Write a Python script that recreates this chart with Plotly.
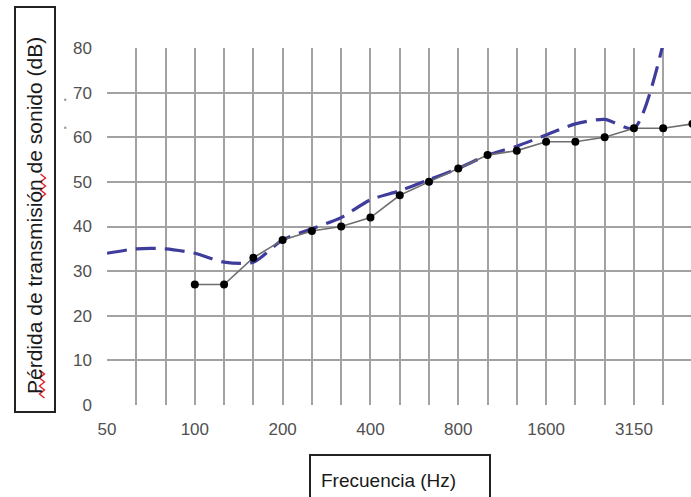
import plotly.graph_objects as go

# Third-octave band centre frequencies (Hz)
frecuencias = ["50", "63", "80", "100", "125", "160", "200", "250", "315", "400",
               "500", "630", "800", "1000", "1250", "1600", "2000", "2500",
               "3150", "4000", "5000"]
etiquetas_x = {"50", "100", "200", "400", "800", "1600", "3150"}

# Measured transmission loss (dB), from 100 Hz upwards
frec_medida = ["100", "125", "160", "200", "250", "315", "400", "500", "630",
               "800", "1000", "1250", "1600", "2000", "2500", "3150", "4000", "5000"]
tl_medida = [27, 27, 33, 37, 39, 40, 42, 47, 50, 53, 56, 57, 59, 59, 60, 62, 62, 63]

# Reference curve (dB), 50 Hz to 4000 Hz
frec_ref = frecuencias[:20]
tl_ref = [34, 35, 35, 34, 32, 32, 37, 39.5, 42, 46, 48, 50.5, 53, 56, 58, 60.5, 63, 64, 62, 81]

y_ticks = [0, 10, 20, 30, 40, 50, 60, 70, 80]

W, H = 691, 497
L, T, R, B = 107, 48, 0, 92
PW, PH = W - L - R, H - T - B


def px(x):
    return (x - L) / PW


def py(y):
    return (H - B - y) / PH


fig = go.Figure()

fig.add_trace(go.Scatter(
    x=frec_ref, y=tl_ref, mode="lines",
    line=dict(color="#3f3d9c", width=3.2, dash="20px,9px", shape="spline", smoothing=0.7),
    hoverinfo="skip", showlegend=False,
))

fig.add_trace(go.Scatter(
    x=frec_medida, y=tl_medida, mode="lines+markers",
    line=dict(color="#6e6e6e", width=1.6),
    marker=dict(color="#000000", size=8),
    showlegend=False,
))

tick_font = dict(family="Liberation Sans, Arial, sans-serif", size=17, color="#505050")
grid_col = "#a2a2a2"

fig.update_xaxes(
    type="category", categoryorder="array", categoryarray=frecuencias,
    range=[0, 19.95],
    tickmode="array", tickvals=frecuencias,
    ticktext=[f if f in etiquetas_x else "" for f in frecuencias],
    showgrid=True, gridcolor=grid_col, gridwidth=2,
    showline=False, zeroline=False, ticks="",
    tickfont=tick_font, ticklabelstandoff=12,
)
fig.update_yaxes(
    range=[0, 80], tickvals=y_ticks,
    showgrid=True, gridcolor=grid_col, gridwidth=2,
    showline=False, zeroline=False, ticks="",
    tickfont=tick_font, ticklabelstandoff=14,
)

shapes = [
    # boxed axis titles
    dict(type="rect", xref="paper", yref="paper",
         x0=px(15), x1=px(55), y0=py(412), y1=py(7),
         line=dict(color="#222222", width=2), fillcolor="rgba(0,0,0,0)"),
    dict(type="rect", xref="paper", yref="paper",
         x0=px(310), x1=px(490), y0=py(530), y1=py(455),
         line=dict(color="#222222", width=2), fillcolor="rgba(0,0,0,0)"),
    # stray specks beside the y labels
    dict(type="circle", xref="paper", yref="paper",
         x0=px(64), x1=px(66.5), y0=py(101), y1=py(98.5),
         line=dict(width=0), fillcolor="#9a9a9a"),
    dict(type="circle", xref="paper", yref="paper",
         x0=px(64), x1=px(66.5), y0=py(129), y1=py(126.5),
         line=dict(width=0), fillcolor="#9a9a9a"),
]


def squiggle(xc, y0, y1, amp=2.5, step=4):
    pts = []
    y = y0
    k = 0
    while y <= y1:
        pts.append((px(xc + (amp if k % 2 else -amp)), py(y)))
        y += step
        k += 1
    d = "M " + " L ".join(f"{a:.5f},{b:.5f}" for a, b in pts)
    return dict(type="path", xref="paper", yref="paper", path=d,
                line=dict(color="#e0202a", width=1.4))


shapes.append(squiggle(42, 370, 398))
shapes.append(squiggle(43, 174, 200))

annotations = [
    dict(text="Pérdida de transmisión de sonido (dB)", xref="paper", yref="paper",
         x=px(34), y=py(216), xanchor="center", yanchor="middle", textangle=-90,
         showarrow=False,
         font=dict(family="Liberation Sans, Arial, sans-serif", size=21, color="#1a1a1a")),
    dict(text="Frecuencia (Hz)", xref="paper", yref="paper",
         x=px(388), y=py(481), xanchor="center", yanchor="middle",
         showarrow=False,
         font=dict(family="Liberation Sans, Arial, sans-serif", size=19, color="#1a1a1a")),
]

fig.update_layout(
    width=W, height=H,
    margin=dict(l=L, r=R, t=T, b=B),
    paper_bgcolor="white", plot_bgcolor="white",
    shapes=shapes, annotations=annotations,
    showlegend=False,
)

fig.write_html("out.html")
